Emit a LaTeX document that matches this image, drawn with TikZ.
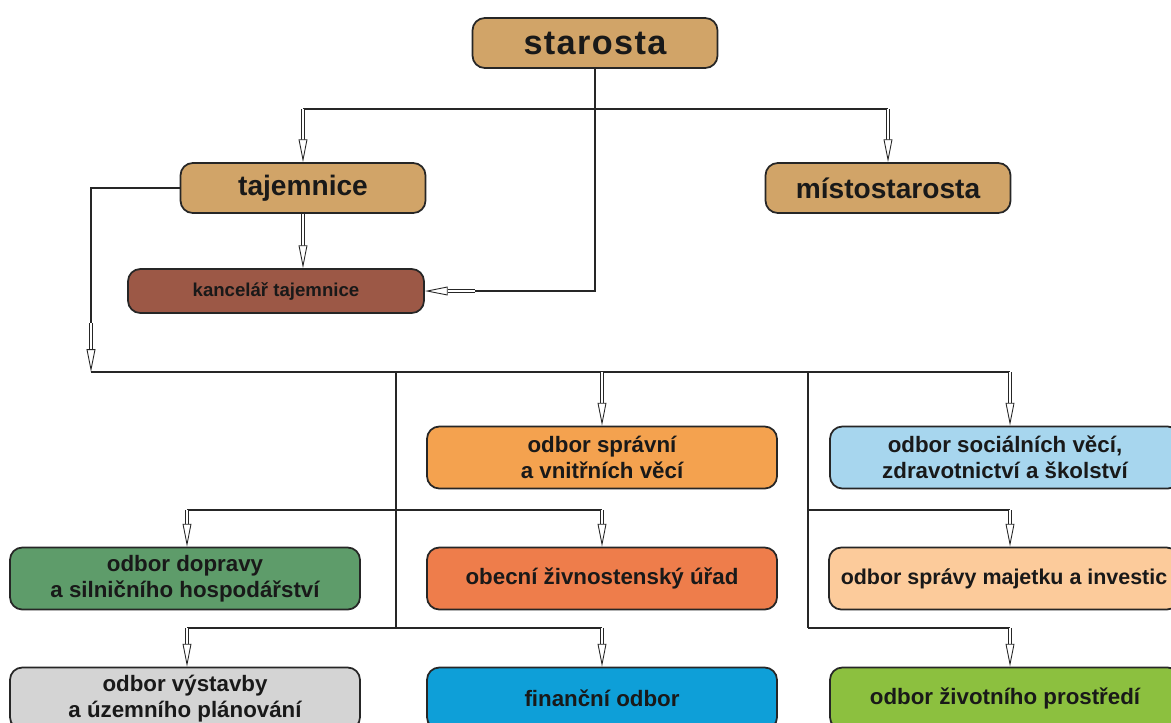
\documentclass[tikz,border=0pt]{standalone}
\usepackage{fontspec}
\setmainfont{Liberation Sans}
\usetikzlibrary{arrows.meta}

\definecolor{tan}{HTML}{D1A468}
\definecolor{kancbrown}{HTML}{9C5846}
\definecolor{spravnicol}{HTML}{F4A24F}
\definecolor{socialcol}{HTML}{A7D6EE}
\definecolor{dopravacol}{HTML}{5E9C6A}
\definecolor{zivnostcol}{HTML}{EE7D4B}
\definecolor{majetekcol}{HTML}{FCCB9B}
\definecolor{vystavbacol}{HTML}{D4D4D4}
\definecolor{financecol}{HTML}{0E9FD8}
\definecolor{prostredicol}{HTML}{8CC03F}

\tikzset{
    headbox/.style={draw=black!85, line width=1pt, rounded corners=7pt, fill=tan,
        minimum width=4.9cm, minimum height=1cm, text=black!90,
        font=\bfseries\fontsize{16}{18}\selectfont},
    odbor/.style={draw=black!85, line width=1pt, rounded corners=7pt,
        minimum width=7cm, minimum height=1.24cm, align=center, text=black!90,
        font=\bfseries\fontsize{12.7}{14.5}\selectfont},
    line/.style={line width=0.9pt, black!85},
    hollow/.style={line width=0.5pt, draw=black!85, double=white, double distance=1.3pt,
        -{Triangle[open, fill=white, length=13pt, width=5pt, line width=0.5pt]}},
}

\begin{document}
\begin{tikzpicture}[x=0.2mm, y=-0.2mm]
    % 背景
    \fill[white] (0,0) rectangle (1171,722);
    \clip (0,0) rectangle (1171,722);

    % 绘制上部节点
    \node[headbox, font=\bfseries\fontsize{19.5}{22}\selectfont\addfontfeature{LetterSpace=4}] (starosta) at (595,43) {starosta};
    \node[headbox] (tajemnice) at (303,188) {tajemnice};
    \node[headbox] (mistostarosta) at (888,188) {místostarosta};
    \node[odbor, fill=kancbrown, minimum width=5.92cm, minimum height=0.88cm,
        font=\bfseries\fontsize{10.6}{12}\selectfont] (kancelar) at (276,291) {kancelář tajemnice};

    % 绘制odbory
    \node[odbor, fill=spravnicol] (spravni) at (602,457.5) {odbor správní\\a vnitřních věcí};
    \node[odbor, fill=socialcol] (socialni) at (1005,457.5) {odbor sociálních věcí,\\zdravotnictví a školství};
    \node[odbor, fill=dopravacol] (doprava) at (185,578.5) {odbor dopravy\\a silničního hospodářství};
    \node[odbor, fill=zivnostcol] (zivnost) at (602,578.5) {obecní živnostenský úřad};
    \node[odbor, fill=majetekcol, font=\bfseries\fontsize{12.2}{14.5}\selectfont] (majetek) at (1004,578.5) {odbor správy majetku a investic};
    \node[odbor, fill=vystavbacol] (vystavba) at (185,698.5) {odbor výstavby\\a územního plánování};
    \node[odbor, fill=financecol] (finance) at (602,698.5) {finanční odbor};
    \node[odbor, fill=prostredicol] (prostredi) at (1005,698.5) {odbor životního prostředí};

    % 绘制starosta的连线
    \coordinate (b1) at (303,109);
    \coordinate (b2) at (888,109);
    \coordinate (k1) at (475,291);
    \draw[line] (b1) -- (b2);
    \draw[line] (starosta.south) |- (k1);
    \draw[hollow] (k1) -- (kancelar.east);
    \draw[hollow] (b1) -- (tajemnice.north);
    \draw[hollow] (b2) -- (mistostarosta.north);
    \draw[hollow] (tajemnice.south) -- (tajemnice.south |- kancelar.north);

    % 绘制总线
    \coordinate (t1) at (91,323);
    \coordinate (bus0) at (91,372);
    \coordinate (bus1) at (396,372);
    \coordinate (bus2) at (602,372);
    \coordinate (bus3) at (808,372);
    \coordinate (bus4) at (1010,372);
    \draw[line] (tajemnice.west) -| (t1);
    \draw[hollow] (t1) -- (bus0);
    \draw[line] (bus0) -- (bus4);
    \draw[hollow] (bus2) -- (spravni.north);
    \draw[hollow] (bus4) -- (bus4 |- socialni.north);

    % 绘制分支
    \draw[line] (bus1) -- (396,628);
    \draw[line] (bus3) -- (808,628);
    \draw[line] (187,510) -- (602,510);
    \draw[line] (187,628) -- (602,628);
    \draw[line] (808,510) -- (1010,510);
    \draw[line] (808,628) -- (1010,628);
    \draw[hollow] (187,510) -- (187,0 |- doprava.north);
    \draw[hollow] (602,510) -- (zivnost.north);
    \draw[hollow] (187,628) -- (187,0 |- vystavba.north);
    \draw[hollow] (602,628) -- (finance.north);
    \draw[hollow] (1010,510) -- (1010,0 |- majetek.north);
    \draw[hollow] (1010,628) -- (1010,0 |- prostredi.north);
\end{tikzpicture}
\end{document}
